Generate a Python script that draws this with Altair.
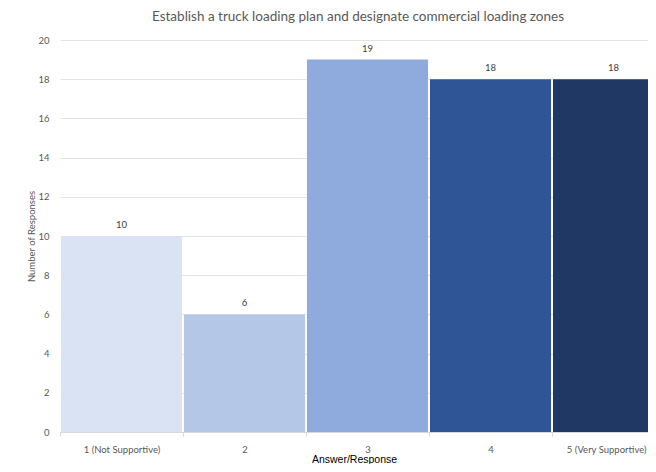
import altair as alt
import pandas as pd

categories = ["1 (Not Supportive)", "2", "3", "4", "5 (Very Supportive)"]
counts = [10, 6, 19, 18, 18]
colors = ["#dae3f3", "#b4c7e7", "#8faadc", "#2f5597", "#203864"]
y_ticks = [0, 2, 4, 6, 8, 10, 12, 14, 16, 18, 20]

df = pd.DataFrame({
    "answer": categories,
    "count": counts,
    "idx": list(range(1, len(categories) + 1)),
})

label_array = "[" + ",".join("'" + c + "'" for c in categories) + "]"

x_scale = alt.Scale(domain=[0.5, 5.2805], nice=False, zero=False)
y_scale = alt.Scale(domain=[0, 20], nice=False)

x_axis = alt.Axis(
    values=[0.5, 1.5, 2.5, 3.5, 4.5],
    labelExpr=label_array + "[round(datum.value + 0.5) - 1]",
    labelOffset={"expr": "datum.value > 4 ? 94 : 61.5"},
    labelAlign={"expr": "datum.value > 4 ? 'right' : 'center'"},
    labelFlush=False,
    labelOverlap=False,
    labelBound=False,
    labelAngle=0,
    labelFont="Lato",
    labelFontSize=9.5,
    labelColor="#595959",
    labelPadding=8,
    tickColor="#d9d9d9",
    tickSize=4,
    domainColor="#d9d9d9",
    grid=False,
    title="Answer/Response",
    titleFont="Liberation Sans",
    titleFontSize=10.5,
    titleFontWeight="normal",
    titleColor="#000000",
    titlePadding=1,
)
y_axis = alt.Axis(
    values=y_ticks,
    labelOverlap=False,
    labelFont="Lato",
    labelFontSize=9.5,
    labelColor="#595959",
    labelPadding=11,
    domain=False,
    ticks=False,
    gridColor="#e3e3e3",
    title="Number of Responses",
    titleFont="Lato",
    titleFontSize=9.5,
    titleFontWeight="normal",
    titleColor="#595959",
    titlePadding=1.5,
)

base = alt.Chart(df).transform_calculate(
    x0="datum.idx - 0.492", x1="datum.idx + 0.492"
)

bars = base.mark_bar(clip=True).encode(
    x=alt.X("x0:Q", scale=x_scale, axis=x_axis),
    x2="x1:Q",
    y=alt.Y("count:Q", scale=y_scale, axis=y_axis),
    y2=alt.datum(0),
    color=alt.Color("answer:N", sort=categories,
                    scale=alt.Scale(domain=categories, range=colors), legend=None),
)
labels = base.mark_text(
    dy=-11, font="Lato", fontSize=9.5, color="#404040", clip=True
).encode(
    x=alt.X("idx:Q", scale=x_scale, axis=x_axis),
    y=alt.Y("count:Q", scale=y_scale, axis=y_axis),
    text="count:Q",
)

chart = (bars + labels).properties(
    width=588,
    height=392,
    autosize=alt.AutoSizeParams(type="none"),
    padding={"left": 52, "top": 32, "right": 0, "bottom": 32},
    title=alt.TitleParams(
        "Establish a truck loading plan and designate commercial loading zones",
        font="Lato", fontSize=13.5, fontWeight="normal", color="#595959",
        anchor="middle", offset=12, dx=4,
    ),
).configure_view(stroke=None)

chart.save("out.html", embed_options={"renderer": "svg", "actions": False})
